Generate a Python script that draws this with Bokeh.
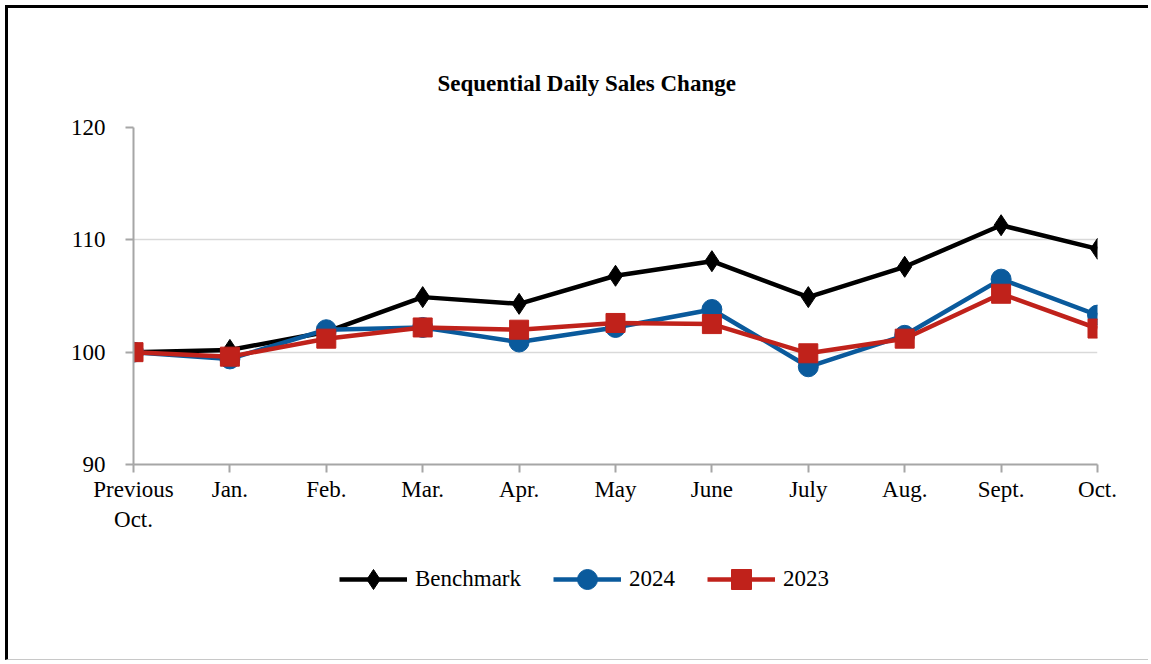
from bokeh.plotting import figure
from bokeh.layouts import column
from bokeh.models import (FixedTicker, Legend, LegendItem, Range1d, Title)
from bokeh.embed import file_html
from bokeh.resources import INLINE

categories = ["Previous\nOct.", "Jan.", "Feb.", "Mar.", "Apr.", "May", "June",
              "July", "Aug.", "Sept.", "Oct."]
benchmark = [100.0, 100.2, 101.8, 104.9, 104.3, 106.8, 108.1, 104.9, 107.6, 111.3, 109.2]
sales_2024 = [100.0, 99.4, 102.0, 102.2, 100.9, 102.2, 103.8, 98.7, 101.5, 106.5, 103.3]
sales_2023 = [100.0, 99.6, 101.2, 102.2, 102.0, 102.6, 102.5, 99.9, 101.2, 105.2, 102.1]
series_names = ["Benchmark", "2024", "2023"]
y_ticks = [90, 100, 110, 120]

FONT = "Liberation Serif"
BLACK = "#000000"
BLUE = "#0a5a9c"
RED = "#c0221b"

xs = list(range(len(categories)))

p = figure(width=1143, height=537, output_backend="svg", toolbar_location=None,
           x_range=Range1d(0, len(categories) - 1), y_range=Range1d(90, 120),
           min_border_left=125, min_border_right=54, min_border_top=119,
           min_border_bottom=81, outline_line_color=None)
p.styles = {"border-top": "3px solid black", "border-left": "3px solid black",
            "box-sizing": "border-box"}

p.title = Title(text="Sequential Daily Sales Change", align="left",
                text_font=FONT, text_font_size="23px", text_font_style="bold",
                text_color="#000000", offset=304, standoff=63)

for ax in (p.xaxis[0], p.yaxis[0]):
    ax.axis_line_color = "#a6a6a6"
    ax.axis_line_width = 2
    ax.major_tick_line_color = "#a6a6a6"
    ax.major_tick_line_width = 2
    ax.major_tick_in = 0
    ax.major_tick_out = 8
    ax.minor_tick_line_color = None
    ax.major_label_text_font = FONT
    ax.major_label_text_font_size = "23px"
    ax.major_label_text_color = "#000000"

p.yaxis[0].ticker = FixedTicker(ticks=y_ticks)
p.yaxis[0].major_label_standoff = 20
p.xaxis[0].ticker = FixedTicker(ticks=xs)
p.xaxis[0].major_label_overrides = {i: c for i, c in enumerate(categories)}
p.xaxis[0].major_label_standoff = 4

p.xgrid.grid_line_color = None
p.ygrid.ticker = FixedTicker(ticks=[100, 110, 120])
p.ygrid.grid_line_color = "#d9d9d9"
p.ygrid.grid_line_width = 1.5

p.line(xs, benchmark, line_color=BLACK, line_width=4.5)
p.scatter(xs, benchmark, marker="diamond", size=21, fill_color=BLACK, line_color=BLACK)
p.line(xs, sales_2024, line_color=BLUE, line_width=4.5)
p.scatter(xs, sales_2024, marker="circle", size=20, fill_color=BLUE, line_color=BLUE)
p.line(xs, sales_2023, line_color=RED, line_width=4.5)
p.scatter(xs, sales_2023, marker="square", size=19, fill_color=RED, line_color=RED)

# legend strip below the chart
pl = figure(width=1143, height=118, output_backend="svg", toolbar_location=None,
            x_axis_location=None, y_axis_location=None, outline_line_color=None,
            min_border=0, x_range=Range1d(0, 1), y_range=Range1d(0, 1))
pl.grid.visible = False
pl.styles = {"border-left": "3px solid black", "border-bottom": "1px solid #c8c8c8",
             "box-sizing": "border-box"}

items = []
for name, color, marker, size in zip(series_names, [BLACK, BLUE, RED],
                                     ["diamond", "circle", "square"], [21, 20, 19]):
    # swatch renderers: a single point kept outside the visible range
    ln = pl.line([-5, -4], [-5, -5], line_color=color, line_width=4.5)
    mk = pl.scatter([-5], [-5], marker=marker, size=size, fill_color=color, line_color=color)
    items.append(LegendItem(label=name, renderers=[ln, mk]))

legend = Legend(items=items, orientation="horizontal", location=(206, 56),
                glyph_width=68, glyph_height=50, label_text_font=FONT,
                label_text_font_size="23px", label_text_color="#000000",
                border_line_color=None, background_fill_alpha=0,
                spacing=32, label_standoff=8, padding=4, margin=0)
pl.add_layout(legend, "center")

layout = column(p, pl, spacing=0)
layout.styles = {"margin-left": "5px", "margin-top": "5px"}

open("out.html", "w").write(file_html(layout, INLINE))
